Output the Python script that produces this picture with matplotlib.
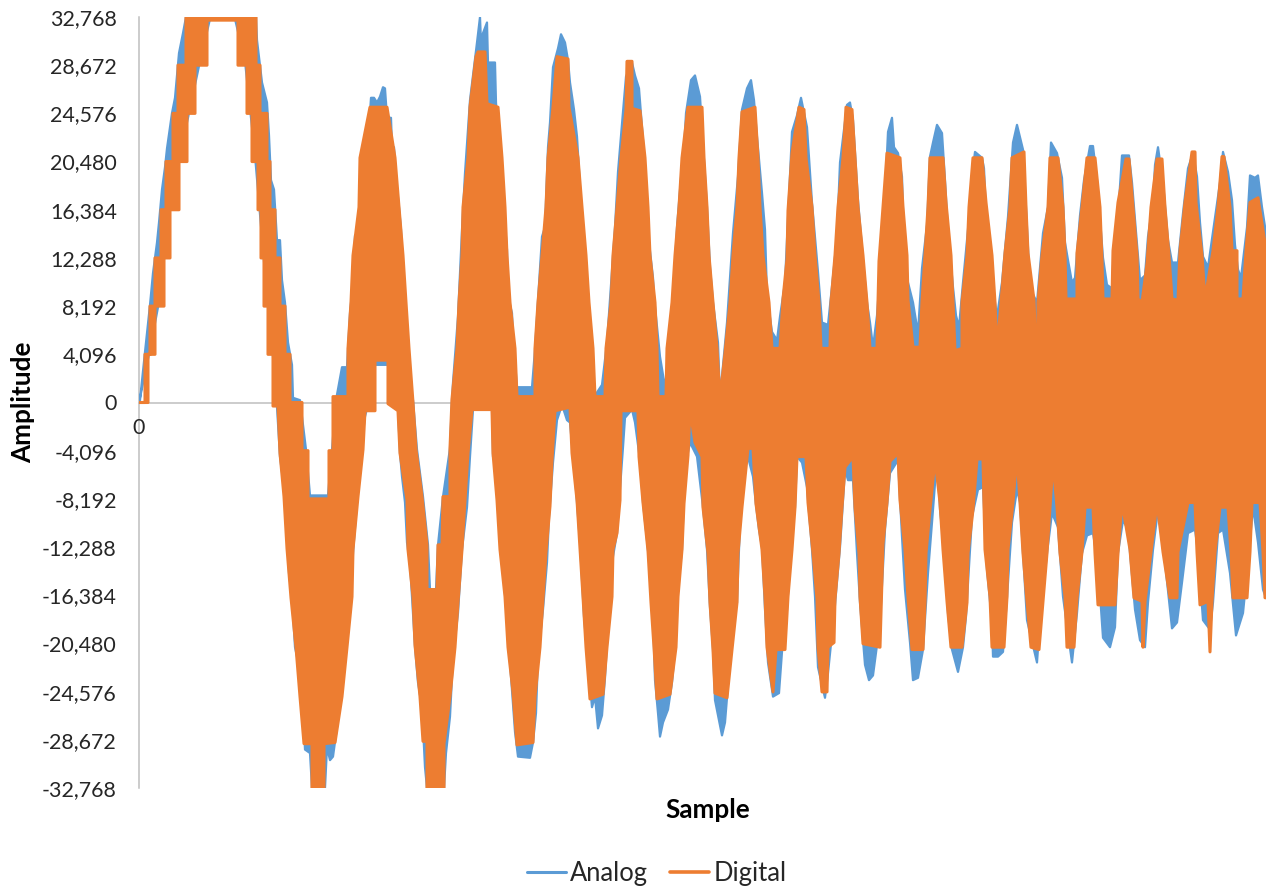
import numpy as np
import matplotlib
matplotlib.use("Agg")
import matplotlib.pyplot as plt
from matplotlib.lines import Line2D

plt.rcParams['font.family'] = ['Lato', 'DejaVu Sans']

y_ticks = [32768, 28672, 24576, 20480, 16384, 12288, 8192, 4096, 0,
           -4096, -8192, -12288, -16384, -20480, -24576, -28672, -32768]
y_tick_labels = ["32,768", "28,672", "24,576", "20,480", "16,384", "12,288", "8,192", "4,096", "0",
                 "-4,096", "-8,192", "-12,288", "-16,384", "-20,480", "-24,576", "-28,672", "-32,768"]
x_end = 1127

analog_high = [(0,0),(1,200),(6,4300),(11,8300),(14,11000),(18,13600),(20,15300),(23,18100),(26,20000),(28,21600),(33,24600),(36,25900),(40,29700),(44,31400),(47,32768),(117,32768),(118,30800),(123,27200),(128,25500),(130,22700),(132,18900),(135,18100),(138,13800),(141,13800),(143,10400),(146,8500),(149,5100),(153,3200),(154,400),(161,200),(167,-4000),(171,-7900),(189,-7900),(193,-4000),(197,200),(203,3000),(208,3000),(211,7600),(214,10200),(216,14200),(219,14400),(221,17500),(222,20800),(229,20900),(230,23400),(232,25900),(235,25900),(238,25500),(241,26000),(244,26800),(246,26700),(248,24200),(252,24200),(253,21700),(255,21700),(257,19100),(260,16600),(262,14700),(264,10700),(268,5900),(271,1100),(274,200),(278,-4000),(284,-8000),(289,-12100),(291,-15900),(297,-15900),(299,-12100),(304,-8000),(311,-3900),(313,200),(314,1700),(319,7300),(323,14700),(326,19500),(331,25700),(334,27800),(338,30600),(341,32768),(342,30600),(344,31400),(348,32300),(349,28900),(356,28900),(357,25500),(361,20900),(364,17200),(368,13000),(369,9000),(373,7600),(374,5600),(378,1300),(393,1300),(396,4500),(399,8700),(403,14100),(406,14900),(409,21700),(411,23800),(414,28500),(419,30100),(422,31300),(426,30600),(429,29100),(431,27200),(435,24900),(438,22600),(441,18300),(444,13000),(447,8700),(451,5300),(456,600),(463,1500),(468,5100),(476,14900),(479,19600),(484,24700),(487,27700),(493,28900),(496,27800),(500,26700),(504,22300),(508,17000),(509,14400),(514,10600),(515,9000),(521,3900),(526,1300),(531,4900),(534,8500),(538,14900),(542,19100),(545,21500),(547,24600),(552,27400),(556,27800),(561,26000),(568,16600),(571,11500),(574,8500),(579,5100),(581,400),(588,6800),(594,14400),(599,19200),(603,24900),(608,26700),(612,27400),(615,25700),(618,22600),(623,17800),(626,14700),(628,9100),(633,6000),(638,5300),(641,7300),(646,10200),(653,23000),(658,24400),(662,25900),(668,23400),(673,17000),(679,11100),(683,6800),(689,6600),(694,10700),(698,14100),(701,20400),(708,25300),(711,25500),(714,24000),(719,17200),(724,12100),(728,8500),(731,6800),(734,4700),(738,7400),(743,13200),(746,17500),(749,23000),(753,24200),(755,21700),(759,21200),(763,19200),(765,13600),(769,10200),(774,8500),(779,5900),(783,11400),(788,15100),(791,20900),(794,22100),(798,23600),(803,22900),(806,18900),(809,14500),(814,9800),(817,7400),(820,6400),(824,10200),(829,14700),(833,19300),(836,21300),(843,20800),(845,19900),(848,14100),(854,9700),(858,7300),(863,10200),(869,15800),(874,22100),(878,23600),(884,21500),(887,16600),(891,9700),(898,8500),(904,14400),(909,16600),(912,22100),(918,21200),(923,19100),(926,13600),(929,12100),(933,10200),(936,10600),(941,15900),(945,18900),(951,21800),(954,21800),(958,18900),(964,12300),(968,10000),(973,9700),(975,13400),(979,15800),(983,21000),(990,21000),(993,18700),(997,14500),(1001,10400),(1006,10800),(1009,14100),(1014,17000),(1016,20200),(1019,21700),(1024,18700),(1029,13800),(1033,11900),(1039,11900),(1044,16100),(1049,19900),(1054,21200),(1058,19200),(1061,15300),(1064,12400),(1069,11500),(1076,15700),(1081,18700),(1084,21300),(1089,19600),(1093,17200),(1096,13400),(1099,11300),(1102,10600),(1108,14900),(1111,19300),(1116,19100),(1119,19300),(1123,16600),(1127,14400)]

analog_low = [(0,0),(11,4500),(21,9000),(31,17000),(41,21000),(51,25000),(61,29000),(71,32600),(96,32600),(106,29000),(111,25000),(116,21000),(120,17000),(124,13000),(128,9000),(133,5000),(138,-400),(141,-4600),(144,-6600),(146,-8500),(148,-11100),(150,-14500),(153,-16600),(156,-20800),(158,-21600),(161,-23000),(164,-25900),(166,-29500),(171,-29800),(173,-32768),(186,-32768),(188,-29300),(191,-30400),(194,-30100),(198,-27600),(201,-25300),(204,-21600),(209,-17000),(212,-16500),(214,-12800),(218,-8500),(221,-4600),(226,-1200),(228,-500),(233,0),(236,3200),(249,3200),(251,0),(259,-500),(261,-4300),(263,-6300),(266,-8500),(268,-11900),(271,-13600),(273,-16500),(276,-20800),(279,-23800),(283,-25900),(285,-29300),(286,-31000),(288,-32768),(305,-32768),(307,-29800),(311,-26700),(314,-21600),(319,-17900),(323,-12500),(328,-8900),(331,-4600),(334,-600),(353,-600),(354,-4600),(359,-5700),(361,-10200),(364,-14000),(368,-18500),(371,-22100),(376,-28000),(379,-30100),(391,-30200),(394,-28900),(397,-26400),(399,-21600),(404,-17600),(408,-13600),(410,-9700),(414,-5100),(418,-1500),(423,-200),(428,-1500),(431,-1700),(436,-6300),(438,-8500),(441,-11900),(445,-18200),(449,-22100),(453,-25900),(456,-25000),(459,-27700),(463,-26600),(466,-23400),(470,-17600),(474,-13100),(478,-11100),(480,-8500),(484,-3800),(486,-1300),(493,-600),(496,-1700),(501,-4900),(504,-8500),(508,-11700),(511,-14400),(514,-18200),(516,-23600),(519,-26400),(521,-28400),(524,-27200),(529,-26100),(533,-23800),(536,-21000),(539,-15700),(543,-12500),(546,-5500),(551,-3400),(558,-4600),(564,-8900),(568,-12500),(571,-17400),(574,-21000),(576,-25300),(583,-28300),(586,-27200),(588,-25100),(594,-17900),(598,-17000),(600,-12500),(604,-4600),(608,-4300),(614,-6300),(617,-8700),(620,-10800),(623,-12300),(626,-17600),(629,-22100),(634,-25000),(640,-24700),(643,-21200),(648,-17600),(653,-10800),(656,-8900),(658,-4600),(663,-5100),(668,-7200),(673,-12500),(676,-16500),(679,-22500),(686,-25100),(689,-23000),(696,-17200),(701,-12300),(706,-5700),(709,-6600),(714,-6600),(718,-12800),(721,-17000),(726,-22300),(730,-23600),(734,-23200),(741,-18700),(746,-10800),(751,-6000),(759,-4900),(763,-11400),(766,-15900),(771,-20400),(774,-23600),(779,-23400),(784,-21000),(789,-14500),(793,-10200),(798,-4700),(801,-9100),(806,-13100),(809,-17900),(813,-21000),(819,-22900),(824,-20800),(827,-18200),(833,-9700),(839,-7400),(844,-7200),(848,-14200),(853,-18700),(854,-21600),(859,-21600),(864,-21200),(868,-16600),(873,-10200),(878,-7400),(881,-8500),(888,-18500),(898,-22100),(901,-18500),(908,-12800),(913,-9400),(919,-10600),(924,-16500),(933,-22100),(938,-17900),(943,-12800),(948,-11300),(954,-11100),(959,-13800),(964,-20000),(971,-20800),(976,-19100),(979,-12800),(984,-10000),(989,-10800),(996,-17600),(1001,-20200),(1006,-20800),(1009,-17000),(1014,-12500),(1019,-9100),(1026,-13600),(1033,-19200),(1038,-18700),(1043,-15300),(1049,-11100),(1056,-10800),(1059,-12700),(1064,-18500),(1071,-19300),(1074,-17000),(1079,-11100),(1084,-10800),(1091,-14500),(1097,-19800),(1104,-17900),(1109,-13600),(1114,-8900),(1119,-11900),(1124,-15900),(1127,-16600)]

digital_high = [(0,0),(6,0),(6,4096),(11,4096),(11,8192),(16,8192),(16,12288),(22,12288),(22,16384),(27,16384),(27,20480),(34,20480),(34,24576),(39,24576),(39,28672),(47,28672),(47,32768),(117,32768),(117,28672),(121,28672),(121,24576),(128,24576),(128,20480),(131,20480),(131,16384),(136,16384),(136,12288),(141,12288),(141,8192),(146,8192),(146,4096),(151,4096),(151,0),(163,0),(163,-4096),(169,-4096),(169,-8192),(190,-8192),(190,-4096),(194,-4096),(194,500),(209,500),(209,4600),(212,8500),(214,12500),(220,16600),(221,20800),(231,25100),(248,25100),(256,20800),(260,16600),(264,12500),(267,8500),(270,4600),(274,0),(277,-4000),(283,-8000),(288,-12100),(288,-15900),(298,-15900),(299,-12100),(303,-12100),(304,-8000),(311,-8000),(311,-3900),(313,300),(318,4600),(320,8500),(323,12500),(324,16600),(329,20800),(331,25100),(337,29400),(339,29800),(346,29800),(348,25400),(359,25100),(363,20800),(366,16600),(368,12500),(371,8500),(376,4600),(378,500),(396,500),(396,4600),(399,8500),(403,12500),(407,16600),(409,20800),(414,25100),(418,29400),(429,29200),(430,25100),(439,20800),(443,16600),(447,12500),(450,8500),(454,4600),(456,500),(466,500),(467,4600),(472,8500),(474,12500),(478,16600),(482,20800),(487,24900),(488,29000),(493,29000),(493,25000),(501,24800),(506,20800),(509,16600),(511,12500),(516,8500),(518,4600),(519,500),(527,500),(528,4600),(533,8500),(536,12500),(540,16600),(543,20800),(549,25100),(563,25100),(565,20800),(568,16600),(570,12500),(574,8500),(578,4600),(581,300),(586,4200),(591,8500),(594,12500),(598,16600),(600,20800),(603,24700),(616,25100),(619,20800),(621,16600),(624,12500),(630,8500),(633,4600),(641,4600),(644,8800),(648,12200),(649,16300),(653,21200),(660,25100),(665,24900),(667,20800),(673,16600),(676,12500),(680,8500),(682,4600),(691,4600),(692,8500),(696,12500),(699,16600),(704,20800),(707,25100),(713,24900),(716,20800),(719,16600),(724,12500),(728,8500),(731,4600),(738,4600),(739,8500),(740,12000),(744,16600),(748,21200),(761,20800),(764,16600),(768,12500),(769,8700),(774,4700),(781,4700),(783,8600),(786,12500),(789,16600),(791,20800),(804,20800),(807,17000),(812,12500),(814,8500),(816,4400),(823,4600),(823,8500),(828,12500),(830,16600),(834,20800),(843,20800),(847,17000),(853,12500),(856,8500),(858,4400),(862,8500),(866,12700),(871,16600),(873,20800),(885,21300),(887,16600),(889,12700),(895,8700),(897,4400),(899,4400),(899,8500),(903,12500),(909,16600),(911,20800),(919,20800),(924,16600),(926,12700),(927,8800),(938,8800),(938,12700),(943,16600),(948,20800),(956,20800),(961,16600),(963,12000),(964,8800),(973,8800),(974,12900),(979,17000),(987,20700),(990,20700),(994,16600),(998,12500),(999,8800),(1003,8500),(1008,11800),(1012,16600),(1018,20700),(1023,20700),(1026,16600),(1030,12500),(1033,8800),(1039,8700),(1041,12900),(1046,17000),(1053,21300),(1056,21300),(1057,17000),(1063,12500),(1066,8800),(1074,12900),(1079,16600),(1083,20900),(1085,20900),(1091,16600),(1093,12900),(1098,12900),(1098,8800),(1104,8800),(1107,12900),(1111,17000),(1119,17400),(1127,13000)]

digital_low = [(0,0),(9,0),(9,4096),(16,4096),(16,8192),(25,8192),(25,12288),(31,12288),(31,16384),(40,16384),(40,20480),(48,20480),(48,24576),(56,24576),(56,28672),(68,28672),(68,32500),(99,32500),(99,28672),(108,28672),(108,24576),(113,24576),(113,20480),(119,20480),(119,16384),(122,16384),(122,12288),(125,12288),(125,8192),(129,8192),(129,4096),(134,4096),(134,-300),(139,-300),(141,-4300),(145,-8000),(148,-12400),(152,-16600),(157,-20800),(161,-25000),(165,-29000),(173,-29000),(173,-32768),(185,-32768),(185,-29000),(196,-28900),(203,-25000),(208,-20800),(213,-16500),(214,-12500),(219,-8000),(224,-4000),(226,-700),(236,-700),(236,3600),(249,3600),(249,-100),(259,-700),(261,-4300),(268,-8300),(269,-12500),(274,-16500),(276,-20600),(281,-25000),(284,-28800),(288,-28800),(288,-32768),(305,-32768),(305,-29000),(311,-25000),(316,-20800),(319,-17000),(323,-12500),(326,-8300),(329,-4300),(333,-600),(353,-600),(354,-4300),(358,-8300),(361,-12500),(366,-16500),(369,-20800),(374,-24600),(378,-29100),(394,-28900),(396,-25000),(401,-20800),(404,-16700),(407,-12700),(411,-8800),(413,-4900),(416,-700),(431,-400),(433,-4300),(438,-8300),(444,-16500),(447,-20800),(451,-25200),(464,-24800),(468,-20800),(473,-16500),(474,-12500),(478,-11100),(481,-8300),(482,-700),(499,-700),(500,-4600),(504,-8500),(509,-12600),(512,-17000),(515,-20800),(518,-25200),(531,-24800),(537,-20800),(539,-16500),(543,-12500),(545,-8600),(549,-4500),(551,-700),(556,-3400),(563,-4600),(564,-8900),(569,-12800),(571,-17000),(574,-21000),(576,-24700),(588,-25100),(593,-21000),(598,-17000),(599,-12800),(603,-8900),(609,-3900),(614,-3900),(617,-8600),(623,-12500),(626,-16500),(628,-20800),(634,-24600),(637,-21000),(646,-21000),(649,-16500),(653,-12500),(656,-8900),(658,-4600),(667,-4600),(669,-8500),(674,-12800),(678,-16700),(679,-20800),(683,-24600),(688,-24600),(689,-20800),(695,-20400),(696,-16700),(700,-12800),(703,-8900),(706,-5500),(714,-4600),(716,-8900),(720,-12800),(721,-16500),(724,-20500),(741,-20800),(744,-12000),(748,-8500),(751,-5000),(759,-4300),(761,-8300),(766,-12500),(769,-16600),(773,-21000),(784,-21000),(786,-17000),(787,-12800),(791,-9100),(796,-4800),(801,-8500),(804,-12500),(808,-16900),(812,-20800),(823,-20800),(828,-17000),(829,-12800),(834,-9100),(838,-4800),(844,-4800),(846,-12500),(851,-16500),(853,-20800),(865,-20800),(868,-16500),(869,-12500),(874,-8500),(878,-4400),(881,-8500),(884,-12800),(888,-16900),(892,-20800),(900,-21000),(904,-16900),(908,-12800),(911,-8900),(914,-5000),(918,-8900),(921,-12800),(926,-16500),(928,-20800),(935,-20800),(938,-16600),(943,-12700),(946,-8900),(954,-8900),(956,-12800),(959,-17200),(976,-17200),(979,-12800),(983,-8500),(991,-12500),(995,-16600),(1003,-16900),(1004,-20800),(1006,-16900),(1012,-12700),(1018,-8500),(1024,-12700),(1031,-16600),(1038,-16600),(1039,-12700),(1049,-8500),(1056,-8500),(1058,-12700),(1061,-17200),(1069,-16900),(1071,-21200),(1073,-16900),(1076,-12700),(1081,-8900),(1089,-8900),(1092,-12700),(1094,-16600),(1108,-16600),(1111,-12700),(1113,-8500),(1121,-8500),(1124,-12700),(1126,-16600),(1127,-16600)]


def band(ax, high, low, color, lw, zorder):
    hi, lo = np.array(high), np.array(low)
    xs = np.r_[hi[:, 0], lo[::-1, 0]]
    ys = np.r_[hi[:, 1], lo[::-1, 1]]
    ax.fill(xs, ys, facecolor=color, edgecolor=color, linewidth=lw,
            joinstyle='round', zorder=zorder)


BLUE = '#5B9BD5'
ORANGE = '#ED7D31'
TEXT = '#262626'
AXIS = '#BFBFBF'

fig = plt.figure(figsize=(12.66, 8.86), dpi=100)
ax = fig.add_axes([139 / 1266, 98 / 886, 1127 / 1266, 771 / 886])

band(ax, analog_high, analog_low, BLUE, 1.6, 3)
band(ax, digital_high, digital_low, ORANGE, 2.2, 4)

ax.set_xlim(0, x_end)
ax.set_ylim(-32768, 32768)
ax.set_yticks(y_ticks)
ax.set_yticklabels(y_tick_labels)
ax.set_xticks([0])
ax.set_xticklabels(["0"])
ax.tick_params(axis='y', length=0, pad=16, labelsize=15.4, labelcolor=TEXT)
ax.tick_params(axis='x', length=0, pad=11, labelsize=15.4, labelcolor=TEXT)

for side in ('top', 'right'):
    ax.spines[side].set_visible(False)
ax.spines['bottom'].set_position(('data', 0))
for side in ('left', 'bottom'):
    ax.spines[side].set_color(AXIS)
    ax.spines[side].set_linewidth(1.1)
    ax.spines[side].set_zorder(1)

fig.text(23 / 1266, 1 - 402 / 886, "Amplitude", rotation=90, ha='center', va='center',
         fontsize=18.8, fontweight='bold', color='black')
fig.text(708 / 1266, 1 - 810 / 886, "Sample", ha='center', va='center',
         fontsize=18.8, fontweight='bold', color='black')

handles = [Line2D([], [], color=BLUE, lw=2.2, solid_capstyle='round'),
           Line2D([], [], color=ORANGE, lw=2.6, solid_capstyle='round')]
fig.legend(handles, ["Analog", "Digital"], loc='center', ncol=2,
           bbox_to_anchor=(656.5 / 1266, 1 - 873 / 886), frameon=False,
           fontsize=18.4, labelcolor=TEXT, handlelength=1.55, handletextpad=0.15,
           columnspacing=0.85, borderpad=0)

fig.savefig('out.png', dpi=100)
